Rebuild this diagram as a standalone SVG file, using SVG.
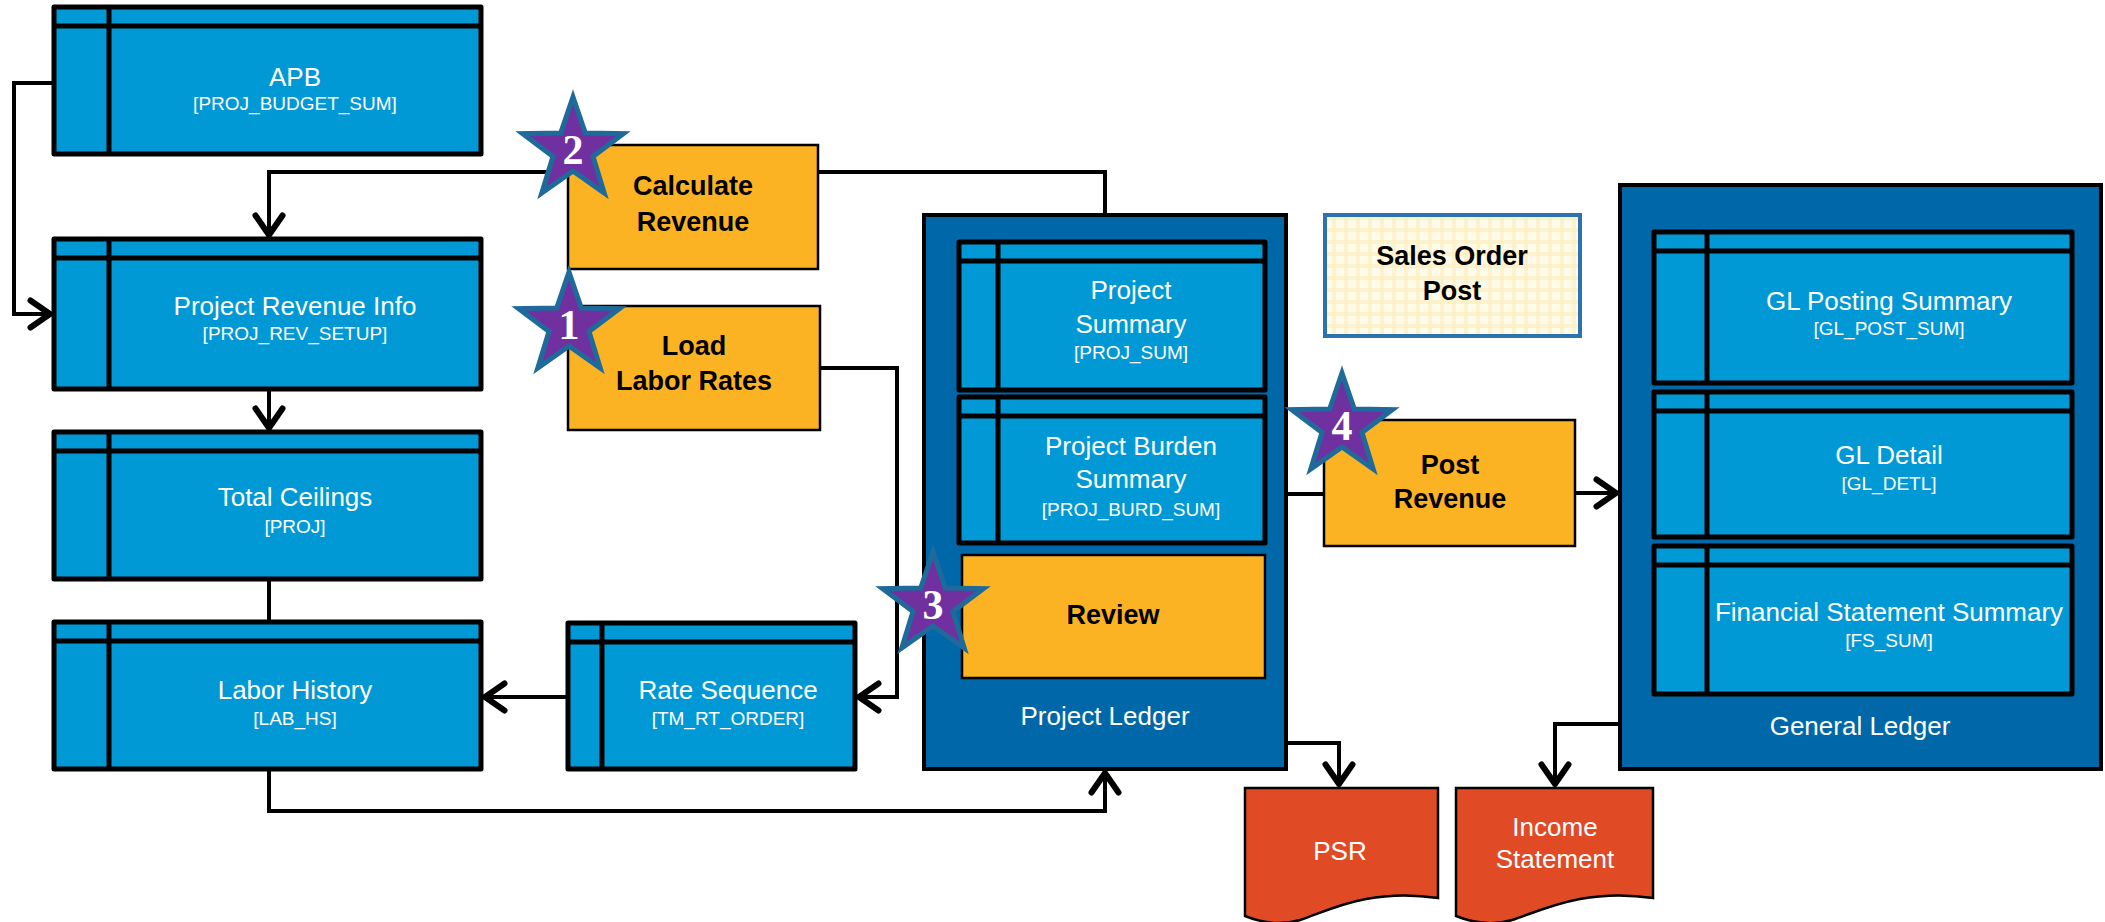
<svg xmlns="http://www.w3.org/2000/svg" xmlns:xlink="http://www.w3.org/1999/xlink" width="2105" height="922" viewBox="0 0 2105 922">
<style>
.tbl{fill:#0099D6;stroke:#000;stroke-width:5;stroke-linejoin:round}
.tl{stroke:#000;stroke-width:5}
.cont{fill:#0068A8;stroke:#000;stroke-width:4}
.yel{fill:#FBB324;stroke:#000;stroke-width:2.5}
.doc{fill:#E04B26;stroke:#000;stroke-width:2.5}
.wt{font-family:"Liberation Sans",Arial,sans-serif;font-size:26px;fill:#fff;text-anchor:middle}
.wb{font-family:"Liberation Sans",Arial,sans-serif;font-size:19px;fill:#fff;text-anchor:middle}
.bt{font-family:"Liberation Sans",Arial,sans-serif;font-size:27px;font-weight:bold;fill:#000;text-anchor:middle}
.num{font-family:"Liberation Serif","DejaVu Serif",serif;font-size:42px;font-weight:bold;fill:#fff;text-anchor:middle}
.con{fill:none;stroke:#000;stroke-width:4;stroke-linejoin:miter}
.star{fill:#7030A0;stroke:#1E6B9B;stroke-width:5;stroke-linejoin:miter}
</style>
<defs>
<marker id="arr" markerUnits="userSpaceOnUse" markerWidth="30" markerHeight="30" refX="14" refY="10" orient="auto" viewBox="0 0 16 20" overflow="visible">
<path d="M1,1 L14,10 L1,19" fill="none" stroke="#000" stroke-width="4" stroke-linejoin="round" stroke-linecap="round"/>
</marker>
<pattern id="chk" width="12" height="12" patternUnits="userSpaceOnUse">
<rect width="12" height="12" fill="#FFFBE8"/>
<rect x="0" y="0" width="12" height="4" fill="#FCEFC2" opacity="0.7"/>
<rect x="0" y="0" width="4" height="12" fill="#FCEFC2" opacity="0.7"/>
</pattern>
<polygon id="star" class="star" points="0,-53 12.3,-17 50.4,-16.4 20,6.5 31.2,42.9 0,21 -31.2,42.9 -20,6.5 -50.4,-16.4 -12.3,-17"/>
</defs>

<g id="project-ledger">
<rect class="cont" x="924" y="215" width="362" height="554"/>
<text class="wt" x="1105" y="725">Project Ledger</text>
</g>
<g id="general-ledger">
<rect class="cont" x="1620" y="185" width="481" height="584"/>
<text class="wt" x="1860" y="735">General Ledger</text>
</g>

<g id="apb">
<rect class="tbl" x="54" y="7" width="427" height="147"/>
<line class="tl" x1="54" y1="26" x2="481" y2="26"/><line class="tl" x1="109" y1="7" x2="109" y2="154"/>
<text class="wt" x="295" y="86">APB</text>
<text class="wb" x="295" y="110">[PROJ_BUDGET_SUM]</text>
</g>
<g id="project-revenue-info">
<rect class="tbl" x="54" y="239" width="427" height="150"/>
<line class="tl" x1="54" y1="258" x2="481" y2="258"/><line class="tl" x1="109" y1="239" x2="109" y2="389"/>
<text class="wt" x="295" y="315">Project Revenue Info</text>
<text class="wb" x="295" y="340">[PROJ_REV_SETUP]</text>
</g>
<g id="total-ceilings">
<rect class="tbl" x="54" y="432" width="427" height="147"/>
<line class="tl" x1="54" y1="451" x2="481" y2="451"/><line class="tl" x1="109" y1="432" x2="109" y2="579"/>
<text class="wt" x="295" y="506">Total Ceilings</text>
<text class="wb" x="295" y="533">[PROJ]</text>
</g>
<g id="labor-history">
<rect class="tbl" x="54" y="622" width="427" height="147"/>
<line class="tl" x1="54" y1="641" x2="481" y2="641"/><line class="tl" x1="109" y1="622" x2="109" y2="769"/>
<text class="wt" x="295" y="699">Labor History</text>
<text class="wb" x="295" y="725">[LAB_HS]</text>
</g>
<g id="rate-sequence">
<rect class="tbl" x="568" y="623" width="287" height="146"/>
<line class="tl" x1="568" y1="642" x2="855" y2="642"/><line class="tl" x1="602" y1="623" x2="602" y2="769"/>
<text class="wt" x="728" y="699">Rate Sequence</text>
<text class="wb" x="728" y="725">[TM_RT_ORDER]</text>
</g>
<g id="project-summary">
<rect class="tbl" x="959" y="242" width="306" height="148"/>
<line class="tl" x1="959" y1="261" x2="1265" y2="261"/><line class="tl" x1="998" y1="242" x2="998" y2="390"/>
<text class="wt" x="1131" y="299">Project</text>
<text class="wt" x="1131" y="333">Summary</text>
<text class="wb" x="1131" y="359">[PROJ_SUM]</text>
</g>
<g id="project-burden-summary">
<rect class="tbl" x="959" y="397" width="306" height="146"/>
<line class="tl" x1="959" y1="416" x2="1265" y2="416"/><line class="tl" x1="998" y1="397" x2="998" y2="543"/>
<text class="wt" x="1131" y="455">Project Burden</text>
<text class="wt" x="1131" y="488">Summary</text>
<text class="wb" x="1131" y="516">[PROJ_BURD_SUM]</text>
</g>
<g id="gl-posting-summary">
<rect class="tbl" x="1654" y="232" width="418" height="151"/>
<line class="tl" x1="1654" y1="251" x2="2072" y2="251"/><line class="tl" x1="1707" y1="232" x2="1707" y2="383"/>
<text class="wt" x="1889" y="310">GL Posting Summary</text>
<text class="wb" x="1889" y="335">[GL_POST_SUM]</text>
</g>
<g id="gl-detail">
<rect class="tbl" x="1654" y="392" width="418" height="145"/>
<line class="tl" x1="1654" y1="411" x2="2072" y2="411"/><line class="tl" x1="1707" y1="392" x2="1707" y2="537"/>
<text class="wt" x="1889" y="464">GL Detail</text>
<text class="wb" x="1889" y="490">[GL_DETL]</text>
</g>
<g id="fs-summary">
<rect class="tbl" x="1654" y="546" width="418" height="148"/>
<line class="tl" x1="1654" y1="565" x2="2072" y2="565"/><line class="tl" x1="1707" y1="546" x2="1707" y2="694"/>
<text class="wt" x="1889" y="621">Financial Statement Summary</text>
<text class="wb" x="1889" y="647">[FS_SUM]</text>
</g>

<g id="connectors">
<path class="con" d="M54,83 H14 V314 H50" marker-end="url(#arr)"/>
<path class="con" d="M568,172 H269 V235" marker-end="url(#arr)"/>
<path class="con" d="M818,172 H1105 V215"/>
<path class="con" d="M269,389 V428" marker-end="url(#arr)"/>
<path class="con" d="M269,579 V622"/>
<path class="con" d="M568,697 H485" marker-end="url(#arr)"/>
<path class="con" d="M820,368 H897 V697 H859" marker-end="url(#arr)"/>
<path class="con" d="M269,769 V811 H1105 V773" marker-end="url(#arr)"/>
<path class="con" d="M1286,494 H1324"/>
<path class="con" d="M1575,493 H1616" marker-end="url(#arr)"/>
<path class="con" d="M1286,743 H1339 V784" marker-end="url(#arr)"/>
<path class="con" d="M1620,724 H1555 V784" marker-end="url(#arr)"/>
</g>

<g id="calculate-revenue">
<rect class="yel" x="568" y="145" width="250" height="124"/>
<text class="bt" x="693" y="195">Calculate</text>
<text class="bt" x="693" y="231">Revenue</text>
</g>
<g id="load-labor-rates">
<rect class="yel" x="568" y="306" width="252" height="124"/>
<text class="bt" x="694" y="355">Load</text>
<text class="bt" x="694" y="390">Labor Rates</text>
</g>
<g id="review">
<rect class="yel" x="962" y="555" width="303" height="123"/>
<text class="bt" x="1113" y="624">Review</text>
</g>
<g id="post-revenue">
<rect class="yel" x="1324" y="420" width="251" height="126"/>
<text class="bt" x="1450" y="474">Post</text>
<text class="bt" x="1450" y="508">Revenue</text>
</g>
<g id="sales-order-post">
<rect x="1325" y="215" width="255" height="121" fill="url(#chk)" stroke="#2A73B0" stroke-width="4"/>
<text class="bt" x="1452" y="265">Sales Order</text>
<text class="bt" x="1452" y="300">Post</text>
</g>
<g id="psr">
<path class="doc" d="M1245,788 H1438 V898 C1370,888 1330,910 1300,920 C1280,926 1260,922 1245,916 Z"/>
<text class="wt" x="1340" y="860">PSR</text>
</g>
<g id="income-statement">
<path class="doc" d="M1456,788 H1653 V898 C1584,888 1543,910 1512,920 C1492,926 1471,922 1456,916 Z"/>
<text class="wt" x="1555" y="836">Income</text>
<text class="wt" x="1555" y="868">Statement</text>
</g>

<g id="star-1"><use xlink:href="#star" href="#star" transform="translate(569,325)"/><text class="num" x="569" y="339">1</text></g>
<g id="star-2"><use xlink:href="#star" href="#star" transform="translate(573,150)"/><text class="num" x="573" y="164">2</text></g>
<g id="star-3"><use xlink:href="#star" href="#star" transform="translate(933,605)"/><text class="num" x="933" y="619">3</text></g>
<g id="star-4"><use xlink:href="#star" href="#star" transform="translate(1342,426)"/><text class="num" x="1342" y="440">4</text></g>
</svg>
